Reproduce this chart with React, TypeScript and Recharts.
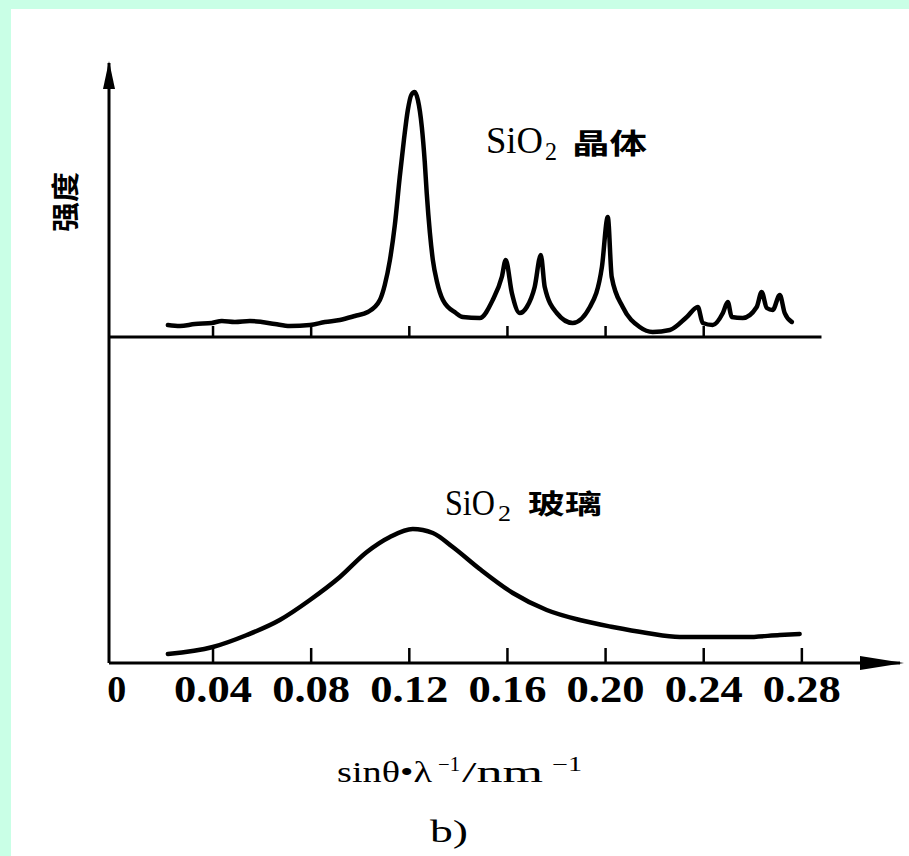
import { Line, LineChart, ReferenceLine, XAxis, YAxis } from "recharts";

// SiO2 crystal: sinθ/λ (nm^-1) and intensity (a.u.)
const crystalX = [
  0.0216, 0.0265, 0.0326, 0.0395, 0.0436, 0.0489, 0.055, 0.0599, 0.0652, 0.0713,
  0.0795, 0.0856, 0.0917, 0.0978, 0.1031, 0.108, 0.1100, 0.1121, 0.1141, 0.1161,
  0.1178, 0.1194, 0.1208, 0.1222, 0.1235, 0.1251, 0.1263, 0.1271, 0.1284, 0.1296,
  0.1313, 0.1337, 0.139, 0.1418, 0.1487, 0.154, 0.1577, 0.1593, 0.1618,
  0.165, 0.1679, 0.1711, 0.1736, 0.1752, 0.1801, 0.1866, 0.1936, 0.1985, 0.2009,
  0.2025, 0.207, 0.2139, 0.2192, 0.2262, 0.2331, 0.2376, 0.2396, 0.2437, 0.2478,
  0.2498, 0.2514, 0.2559, 0.2616, 0.2636, 0.2657, 0.2681, 0.271, 0.273, 0.2759,
];
const crystalY = [
  12, 11, 13, 14, 16, 15, 16, 15, 13, 11,
  12, 15, 17, 21, 25, 37, 52, 77, 112, 160,
  197, 227, 242, 245, 237, 210, 175, 144, 104, 77,
  55, 37, 24, 20, 19, 37, 60, 77, 44,
  24, 30, 50, 82, 50, 24, 14, 30, 70, 120,
  60, 30, 10, 5, 7, 20, 30, 14, 12, 24,
  35, 20, 19, 30, 45, 29, 27, 42, 24, 15,
];

// SiO2 glass
const glassX = [
  0.0216, 0.0399, 0.0538, 0.0672, 0.0795, 0.0917, 0.1027, 0.1121, 0.1214, 0.1296,
  0.1377, 0.1487, 0.1622, 0.176, 0.1895, 0.2029, 0.2168, 0.2302, 0.2437, 0.2575,
  0.271, 0.2791,
];
const glassY = [
  9, 16, 28, 43, 63, 86, 111, 126, 134, 130,
  116, 94, 70, 53, 43, 36, 30, 26, 26, 26,
  28, 29,
];

const xTicks = [0, 0.04, 0.08, 0.12, 0.16, 0.2, 0.24, 0.28];
const upperTicks = [0.04, 0.08, 0.12, 0.16, 0.2, 0.24];

const crystalData = crystalX.map((x, i) => ({ x, y: crystalY[i] }));
const glassData = glassX.map((x, i) => ({ x, y: glassY[i] }));

const serif = "'Liberation Serif', 'Times New Roman', serif";
const cjk = "'Noto Sans CJK SC', sans-serif";

function XTick(props: any) {
  const { x, y, payload } = props;
  const label = payload.value === 0 ? "0" : payload.value.toFixed(2);
  return (
    <text
      x={x + (label.length === 1 ? 2 : 0)}
      y={y}
      dy={26}
      textAnchor="middle"
      fontFamily={serif}
      fontWeight={700}
      fontSize={37}
      fill="#000"
      textLength={label.length === 1 ? 19 : 78}
      lengthAdjust="spacingAndGlyphs"
    >
      {label}
    </text>
  );
}

export default function App() {
  return (
    <div style={{ position: "fixed", left: 0, top: 0, width: 909, height: 856, background: "#fff" }}>
      <div style={{ position: "absolute", left: 0, top: 0, width: 909, height: 9, background: "#c9ffe6" }} />
      <div style={{ position: "absolute", left: 0, top: 0, width: 11, height: 856, background: "#c9ffe6" }} />
      <div style={{ position: "absolute", left: 0, top: 0 }}>
        <LineChart width={909} height={856} margin={{ top: 63, right: 9, bottom: 153, left: 99 }}>
          <XAxis
            type="number"
            dataKey="x"
            domain={[-0.0024, 0.32]}
            allowDataOverflow
            ticks={xTicks}
            interval={0}
            height={40}
            axisLine={{ stroke: "#000", strokeWidth: 3 }}
            tickLine={false}
            tickSize={0}
            tickMargin={13}
            tick={<XTick />}
          />
          <YAxis
            yAxisId="glass"
            type="number"
            domain={[0, 600]}
            allowDataOverflow
            width={10}
            tick={false}
            tickLine={false}
            axisLine={{ stroke: "#000", strokeWidth: 3 }}
          />
          <YAxis
            yAxisId="crystal"
            orientation="right"
            type="number"
            domain={[-326, 274]}
            allowDataOverflow
            width={0}
            hide
          />
          <ReferenceLine
            yAxisId="crystal"
            segment={[{ x: -0.0024, y: 0 }, { x: 0.288, y: 0 }]}
            stroke="#000"
            strokeWidth={3}
          />
          {upperTicks.map((t) => (
            <ReferenceLine
              key={"u" + t}
              yAxisId="crystal"
              segment={[{ x: t, y: 0 }, { x: t, y: 11 }]}
              stroke="#000"
              strokeWidth={2.5}
            />
          ))}
          {xTicks.slice(1).map((t) => (
            <ReferenceLine
              key={"l" + t}
              yAxisId="glass"
              segment={[{ x: t, y: 0 }, { x: t, y: 15 }]}
              stroke="#000"
              strokeWidth={2.5}
            />
          ))}
          <Line
            yAxisId="crystal"
            data={crystalData}
            dataKey="y"
            type="monotone"
            stroke="#000"
            strokeWidth={4.5}
            strokeLinecap="round"
            strokeLinejoin="round"
            dot={false}
            activeDot={false}
            isAnimationActive={false}
          />
          <Line
            yAxisId="glass"
            data={glassData}
            dataKey="y"
            type="monotone"
            stroke="#000"
            strokeWidth={4.5}
            strokeLinecap="round"
            dot={false}
            activeDot={false}
            isAnimationActive={false}
          />
        </LineChart>
      </div>
      <svg width={909} height={856} style={{ position: "absolute", left: 0, top: 0, pointerEvents: "none" }}>
        {/* axis arrows */}
        <polygon points="109,61 103,89 115,89" fill="#000" />
        <polygon points="904,663 860,656 860,670" fill="#000" />

        {/* y label */}
        <text
          transform="translate(76,202) rotate(-90)"
          textAnchor="middle"
          fontFamily={cjk}
          fontWeight={700}
          fontSize={28}
          fill="#000"
          textLength={60}
          lengthAdjust="spacingAndGlyphs"
        >
          强度
        </text>

        {/* crystal label */}
        <text x={486} y={153} fontFamily={serif} fontSize={38} fill="#000" textLength={57} lengthAdjust="spacingAndGlyphs">
          SiO
        </text>
        <text x={545} y={160} fontFamily={serif} fontSize={25} fill="#000" textLength={12} lengthAdjust="spacingAndGlyphs">
          2
        </text>
        <text x={572} y={154} fontFamily={cjk} fontWeight={700} fontSize={28} fill="#000" textLength={75} lengthAdjust="spacingAndGlyphs">
          晶体
        </text>

        {/* glass label */}
        <text x={445} y={515} fontFamily={serif} fontSize={35} fill="#000" textLength={50} lengthAdjust="spacingAndGlyphs">
          SiO
        </text>
        <text x={498} y={521} fontFamily={serif} fontSize={23} fill="#000" textLength={13} lengthAdjust="spacingAndGlyphs">
          2
        </text>
        <text x={528} y={514} fontFamily={cjk} fontWeight={700} fontSize={27} fill="#000" textLength={74} lengthAdjust="spacingAndGlyphs">
          玻璃
        </text>

        {/* x label */}
        <text x={337} y={782} fontFamily={serif} fontSize={29} fill="#000" textLength={95} lengthAdjust="spacingAndGlyphs">
          sinθ•λ
        </text>
        <text x={438} y={771} fontFamily={serif} fontSize={20} fill="#000" textLength={22} lengthAdjust="spacingAndGlyphs">
          −1
        </text>
        <text x={462} y={782} fontFamily={serif} fontSize={29} fill="#000" textLength={81} lengthAdjust="spacingAndGlyphs">
          /nm
        </text>
        <text x={552} y={771} fontFamily={serif} fontSize={20} fill="#000" textLength={30} lengthAdjust="spacingAndGlyphs">
          −1
        </text>
        <text x={449} y={842} textAnchor="middle" fontFamily={serif} fontSize={32} fill="#000" textLength={38} lengthAdjust="spacingAndGlyphs">
          b)
        </text>
      </svg>
    </div>
  );
}
